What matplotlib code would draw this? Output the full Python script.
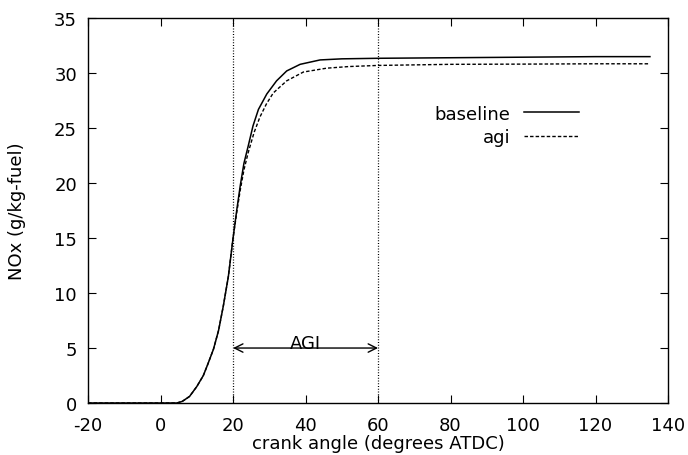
import matplotlib
matplotlib.use("Agg")
from matplotlib import pyplot as plt
import numpy as np

plt.rcParams['font.family'] = ['DejaVu Sans']
plt.rcParams['axes.unicode_minus'] = False

# crank angle (deg ATDC) vs NOx (g/kg-fuel)
base_x = [-20, 0, 4.5, 6, 8, 10, 11.8, 13, 14.6, 16, 17.3, 18.7, 20, 21, 22, 23,
          24.2, 25.5, 27, 29.3, 32, 34.8, 38.5, 44, 50, 60, 80, 100, 120, 135]
base_y = [0, 0, 0, 0.15, 0.6, 1.5, 2.5, 3.5, 4.9, 6.6, 8.8, 11.5, 15.0, 17.5,
          19.8, 21.8, 23.4, 25.2, 26.7, 28.1, 29.3, 30.2, 30.8, 31.2, 31.3,
          31.35, 31.4, 31.45, 31.5, 31.5]

agi_x = [-20, 0, 4.5, 6, 8, 10, 11.8, 13, 14.6, 16, 17.3, 18.7, 20, 21, 22, 23,
         24.2, 25.8, 27.4, 29.2, 31.1, 34.8, 39.4, 45.8, 52, 60, 80, 100, 120, 135]
agi_y = [0, 0, 0, 0.15, 0.6, 1.5, 2.5, 3.5, 4.9, 6.6, 8.8, 11.5, 15.0, 17.3,
         19.4, 21.2, 22.8, 24.6, 26.0, 27.2, 28.2, 29.3, 30.1, 30.45, 30.6,
         30.7, 30.8, 30.82, 30.85, 30.85]

agi_start, agi_end = 20, 60
arrow_y = 5

fs = 13

fig = plt.figure(figsize=(6.88, 4.56), dpi=100)
ax = fig.add_axes([0.128, 0.114, 0.843, 0.844])

ax.plot(base_x, base_y, color='black', lw=1.1, label='baseline')
ax.plot(agi_x, agi_y, color='black', lw=1.0, dashes=(2.5, 1.5), label='agi')

for xv in (agi_start, agi_end):
    ax.axvline(xv, color='black', lw=0.9, dashes=(0.8, 1.4))

ax.annotate('', xy=(agi_start, arrow_y), xytext=(agi_end, arrow_y),
            arrowprops=dict(arrowstyle='<->', color='black', lw=1.0,
                            mutation_scale=15, shrinkA=0, shrinkB=0))
ax.text((agi_start + agi_end) / 2, arrow_y, 'AGI', ha='center', va='baseline',
        fontsize=fs)

ax.set_xlim(-20, 140)
ax.set_ylim(0, 35)
ax.set_xticks(np.arange(-20, 141, 20))
ax.set_yticks(np.arange(0, 36, 5))
ax.tick_params(direction='in', length=6, width=0.8, top=True, right=True,
               labelsize=fs)
ax.tick_params(axis='x', pad=9)
ax.tick_params(axis='y', pad=8)
for s in ax.spines.values():
    s.set_linewidth(1.0)

ax.set_xlabel('crank angle (degrees ATDC)', fontsize=fs, labelpad=0)
ax.set_ylabel('NOx (g/kg-fuel)', fontsize=fs, labelpad=20)

ax.legend(loc='upper right', bbox_to_anchor=(0.847, 0.775), frameon=False,
          markerfirst=False, fontsize=fs, handlelength=3.05, handletextpad=0.78,
          labelspacing=0.3, borderaxespad=0, borderpad=0)

fig.savefig('out.png', dpi=100)
